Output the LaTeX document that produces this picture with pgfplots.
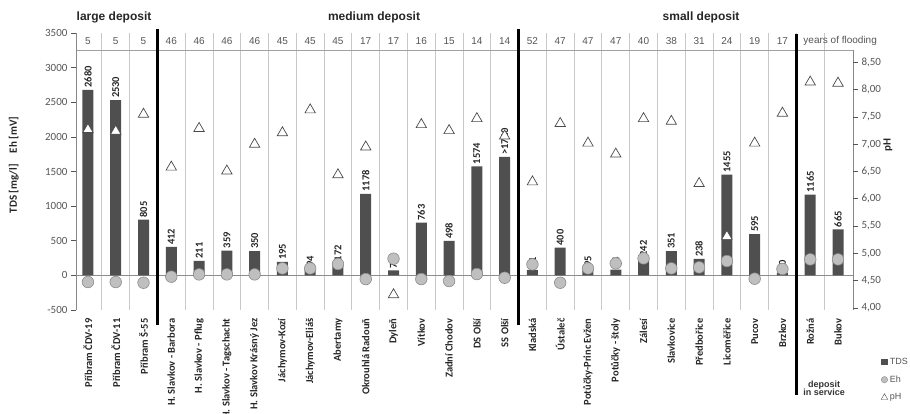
\documentclass[border=0pt]{standalone}
\usepackage{fontspec}
\setmainfont{Carlito}
\newfontfamily\arial{Liberation Sans}
\usepackage{pgfplots}
\usepackage{pgfplotstable}
\pgfplotsset{compat=1.18}
\definecolor{barc}{HTML}{4F4F4F}
\definecolor{ehfill}{HTML}{BFBFBF}
\definecolor{ehdraw}{HTML}{8C8C8C}
\definecolor{tri}{HTML}{4A4A4A}
\definecolor{gridc}{HTML}{C8C8C8}
\definecolor{tickc}{HTML}{555555}
\newcommand\fs[1]{\fontsize{#1}{#1}\selectfont}

\pgfplotstableread{
x tds lab eh
0 2680 2680 -96
1 2530 2530 -96
2 805 805 -106
3 412 412 -19
4 211 211 14
5 359 359 14
6 350 350 14
7 195 195 101
8 94 94 101
9 172 172 164
10 1178 1178 -53
11 73 73 241
12 763 763 -53
13 498 498 -82
14 1574 1574 19
15 1710 >1710 -34
16 81 81 159
17 400 400 -106
18 95 95 101
19 84 84 173
20 242 242 246
21 351 351 101
22 238 238 116
23 1455 1455 207
24 595 595 -48
25 40 40 92
26 1165 1165 231
27 665 665 231
}\datatab

\pgfplotstableread{
x ph
0 7.27
1 7.24
2 7.55
3 6.58
4 7.29
5 6.51
6 7.00
7 7.21
8 7.63
9 6.44
10 6.95
11 4.24
12 7.36
13 7.25
14 7.47
15 7.15
16 6.31
17 7.38
18 7.02
19 6.82
20 7.47
21 7.42
22 6.28
23 5.31
24 7.02
25 7.57
26 8.14
27 8.12
}\phtab

\pgfplotstableread{
x yr
0 5
1 5
2 5
3 46
4 46
5 46
6 46
7 45
8 45
9 45
10 17
11 17
12 16
13 15
14 14
15 14
16 52
17 47
18 47
19 47
20 40
21 38
22 31
23 24
24 19
25 17
}\yrtab

\begin{document}
\begin{tikzpicture}
\begin{axis}[name=ax, scale only axis, width=777pt, height=277pt,
  xmin=-0.43, xmax=27.54, ymin=-500, ymax=3500, clip=false,
  axis line style={draw=none},
  ytick={-500,0,...,3500}, ytick pos=left, tick align=outside,
  major tick length=5pt, ytick style={tickc, line width=0.6pt},
  yticklabel style={font=\fs{11}, text=tickc},
  /pgf/number format/assume math mode=true,
  /pgf/number format/set thousands separator={},
  xtick={0,...,27},
  xticklabels={Příbram ČDV-19, Příbram ČDV-11, Příbram Š-55, H. Slavkov - Barbora, H. Slavkov - Pflug, H. Slavkov - Tagschacht, H. Slavkov Krásný Jez, Jáchymov-Kozí, Jáchymov-Eliáš, Abertamy, Okrouhlá Radouň, Dyleň, Vítkov, Zadní Chodov, DS Olší, SS Olší, Kladská, Ústaleč, Potůčky-Princ Evžen, Potůčky - štoly, Zálesí, Slavkovice, Předbořice, Licoměřice, Pucov, Brzkov, Rožná, Bukov},
  xtick style={draw=none},
  x tick label style={rotate=90, anchor=east, font=\bfseries\fs{10.5}, text=black!85},
  minor xtick={0.5,1.5,...,26.5}, xminorgrids,
  minor grid style={gridc, line width=0.8pt}, minor tick length=0pt,
  legend style={at={(rel axis cs:1.036,-0.165)}, anchor=north west, draw=none, fill=none,
    font=\arial\fs{9}, text=tickc, row sep=6pt, inner sep=0pt, legend cell align=left},
]
\draw[gridc!70!black, line width=0.7pt] (axis cs:-0.43,0) -- (axis cs:27.54,0);
\draw[gridc!80!black, line width=0.7pt] (rel axis cs:0,0.9375) -- (rel axis cs:1,0.9375);
\draw[tickc!70, line width=0.7pt] (rel axis cs:0,0) -- (rel axis cs:0,1);
\draw[tickc!70, line width=0.7pt] (rel axis cs:1,0) -- (rel axis cs:1,0.9375);
\draw[black, line width=2.5pt] (axis cs:2.5,3560) -- (axis cs:2.5,-718);
\draw[black, line width=2.5pt] (axis cs:15.5,3560) -- (axis cs:15.5,-718);
\draw[black, line width=2.5pt] (axis cs:25.5,3490) -- (axis cs:25.5,-1730);

\addplot[ybar, bar width=11pt, fill=barc, draw=none, forget plot,
  nodes near coords, point meta=explicit symbolic,
  every node near coord/.append style={rotate=90, anchor=west, font=\bfseries\fs{10.5}, text=black!85, inner sep=2pt}]
  table[x=x, y=tds, meta=lab] \datatab;
\addplot[only marks, mark=*, mark size=5.8pt, mark options={fill=ehfill, draw=ehdraw, line width=0.6pt}, forget plot]
  table[x=x, y=eh] \datatab;
\addplot[draw=none, mark=none, forget plot, nodes near coords, point meta=explicit symbolic,
  every node near coord/.append style={anchor=center, font=\arial\fs{10}, text=tickc}]
  table[x=x, y expr=3380, meta=yr] \yrtab;

\node[font=\arial\bfseries\fs{12}, text=black!85] at (axis cs:0.94,3732) {large deposit};
\node[font=\arial\bfseries\fs{12}, text=black!85] at (axis cs:10.3,3732) {medium deposit};
\node[font=\arial\bfseries\fs{12}, text=black!85] at (axis cs:22.07,3732) {small deposit};
\node[font=\arial\fs{10}, text=tickc, anchor=west, inner sep=0pt] at (axis cs:25.75,3380) {years of flooding};
\node[font=\arial\bfseries\fs{9}, text=black!80, align=center] at (axis cs:26.5,-1637) {deposit\\[-1pt]in service};
\node[rotate=90, font=\bfseries\fs{11}, text=black!85] at (rel axis cs:-0.08,0.523) {TDS [mg/l]\quad Eh [mV]};

\addlegendimage{only marks, mark=square*, mark size=2.8pt, mark options={fill=barc, draw=barc}}
\addlegendimage{only marks, mark=*, mark size=3.2pt, mark options={fill=ehfill, draw=ehdraw}}
\addlegendimage{only marks, mark=triangle*, mark size=3.8pt, mark options={draw=tri, fill=white}}
\legend{TDS, Eh, pH}
\end{axis}

\begin{axis}[at={(ax.south west)}, anchor=south west, scale only axis, width=777pt, height=277pt,
  xmin=-0.43, xmax=27.54, ymin=3.96, ymax=9.04, clip=false,
  axis line style={draw=none}, hide x axis,
  ytick={4,4.5,5,5.5,6,6.5,7,7.5,8,8.5}, ytick pos=right, tick align=outside,
  major tick length=5pt, ytick style={tickc, line width=0.6pt},
  yticklabel style={font=\fs{11}, text=tickc, /pgf/number format/.cd, fixed, fixed zerofill, precision=2, use comma, assume math mode=true},
]
\addplot[only marks, mark=triangle*, mark size=6pt, mark options={draw=tri, fill=white, line width=0.7pt}]
  table[x=x, y=ph] \phtab;
\node[rotate=90, font=\bfseries\fs{11}, text=black!85] at (rel axis cs:1.045,0.596) {pH};
\end{axis}
\pgfresetboundingbox
\path[use as bounding box] ([shift={(-76pt,-103pt)}]ax.south west) rectangle ([shift={(834pt,310pt)}]ax.south west);
\end{tikzpicture}
\end{document}
